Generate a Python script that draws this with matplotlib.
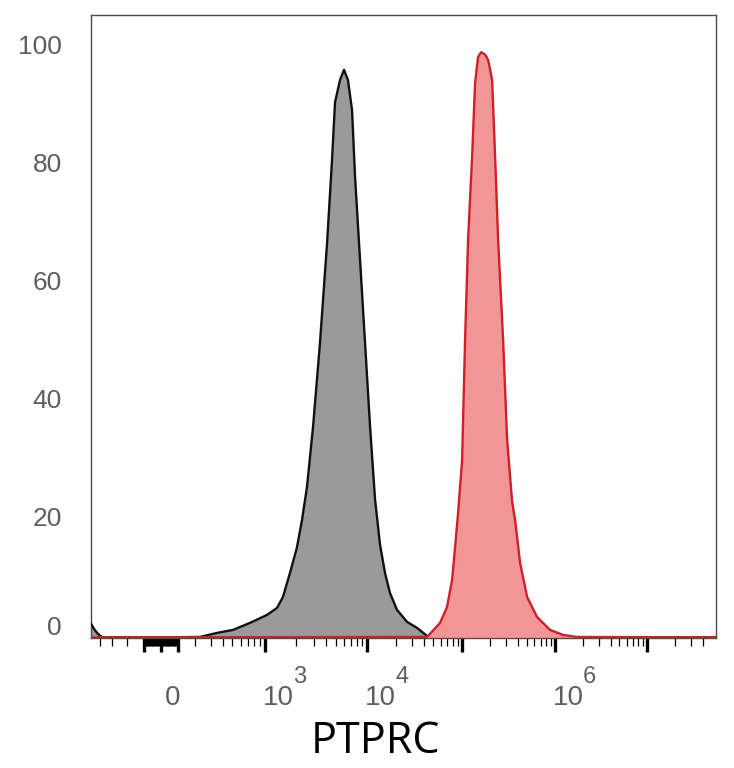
import numpy as np
import matplotlib
matplotlib.use("Agg")
import matplotlib.pyplot as plt
from matplotlib.ticker import FixedLocator, NullFormatter

# ---------------- data ----------------
gray_x = [-497, -460, -430, -400, -372, 0, 228, 348, 511, 730, 1046, 1312, 1501,
          1758, 2061, 2307, 2582, 2960, 3460, 4060, 4540, 4860, 5440, 5950, 6500,
          7130, 7630, 8540, 9560, 10760, 12140, 13700, 15460, 17450, 20690, 26370,
          33590, 42850, 46030, 5.6e7]
gray_y = [2.3, 1.4, 0.8, 0.3, 0, 0, 0.08, 0.76, 1.27, 2.46, 3.81, 5.0, 6.86,
          10.9, 15.3, 19.9, 25.5, 35.7, 49.9, 66.8, 80.9, 90.7, 94.5, 96.2, 94.5,
          89.4, 78.1, 64.0, 49.9, 35.7, 23.4, 15.7, 10.9, 7.5, 4.66, 2.63,
          1.61, 0.25, 0, 0]

red_x = [-497, 42850, 58630, 69500, 78500, 84400, 90800, 100000, 107700, 116000,
         128100, 138000, 148600, 160000, 176600, 190400, 210400, 226600, 243900,
         276100, 304900, 345000, 371500, 420500, 500000, 639700, 883000, 1220000,
         1730000, 5.6e7]
red_y = [0, 0.08, 2.46, 5.17, 9.75, 15.3, 21.1, 30.0, 50.4, 67.4,
         81.4, 94.0, 98.4, 99.2, 98.8, 97.9, 94.5, 81.4, 67.4,
         50.4, 33.5, 23.0, 19.9, 12.6, 6.86, 3.47, 1.27, 0.42,
         0.08, 0]

y_ticks = [0, 20, 40, 60, 80, 100]
x_label_ticks = [0, 1e3, 1e4, 1e6]
x_label_exps = [None, "3", "4", "6"]
x_label = "PTPRC"

# ---------------- biexponential-like axis scale ----------------
cal_vals = np.array([-400, -200, -100, 0, 100, 200, 500, 1e3, 1e4, 1e5, 1e6, 1e7])
cal_pos = np.array([100, 127.5, 144, 161, 178, 195, 232, 265, 367, 462, 555, 647])
S = 100.0
A = np.arcsinh(cal_vals / S)
lo_slope = (cal_pos[1] - cal_pos[0]) / (A[1] - A[0])
hi_slope = (cal_pos[-1] - cal_pos[-2]) / (A[-1] - A[-2])
A_ext = np.concatenate([[A[0] - 20], A, [A[-1] + 20]])
P_ext = np.concatenate([[cal_pos[0] - 20 * lo_slope], cal_pos, [cal_pos[-1] + 20 * hi_slope]])


def fwd(x):
    return np.interp(np.arcsinh(np.asarray(x, float) / S), A_ext, P_ext)


def inv(p):
    return S * np.sinh(np.interp(np.asarray(p, float), P_ext, A_ext))


# ---------------- figure ----------------
W, H = 734, 768
fig = plt.figure(figsize=(W / 100, H / 100), dpi=100)
ax = fig.add_axes([91 / W, 1 - 638 / H, (716 - 91) / W, (638 - 15) / H])
ax.set_xscale("function", functions=(fwd, inv))
ax.set_xlim(-497, 5.6e7)
ax.set_ylim(-0.1, 105.5)

ax.fill_between(gray_x, gray_y, 0, color="#9a9a9a", lw=0, zorder=2)
ax.plot(gray_x, gray_y, color="#111111", lw=1.7, zorder=3, solid_joinstyle="round")
ax.fill_between(red_x, red_y, 0, color="#f09696", lw=0, zorder=4)
ax.plot(red_x, red_y, color="#d21f26", lw=1.7, zorder=5, solid_joinstyle="round")

for sp in ax.spines.values():
    sp.set_color("#4a4a4a")
    sp.set_linewidth(1.0)

# x ticks
majors = [-100, 0, 100, 1e3, 1e4, 1e5, 1e6, 1e7]
minors = [-400, -300, -200] + list(range(-95, 0, 5)) + list(range(5, 100, 5))
for dec in [100, 1e3, 1e4, 1e5, 1e6]:
    minors += [k * dec for k in range(2, 10)]
minors += [2e7, 3e7, 4e7]
ax.xaxis.set_major_locator(FixedLocator(majors))
ax.xaxis.set_minor_locator(FixedLocator(minors))
ax.xaxis.set_major_formatter(NullFormatter())
ax.xaxis.set_minor_formatter(NullFormatter())
ax.tick_params(axis="x", which="major", direction="out", length=10, width=2.4, color="black")
ax.tick_params(axis="x", which="minor", direction="out", length=5.5, width=0.9, color="black")

# y ticks: labels only
ax.yaxis.set_major_locator(FixedLocator(y_ticks))
ax.yaxis.set_major_formatter(NullFormatter())
ax.tick_params(axis="y", length=0)

lab_font = dict(family=["Liberation Sans", "DejaVu Sans"], color="#5e5e5e")
for v in y_ticks:
    dy = 9 if v == 0 else 0
    ax.annotate(str(v), xy=(0, v), xycoords=("axes fraction", "data"),
                xytext=(-29, dy), textcoords="offset pixels",
                ha="right", va="center", fontsize=19, **lab_font)

for v, e in zip(x_label_ticks, x_label_exps):
    if e is None:
        ax.annotate("0", xy=(v, 0), xycoords=("data", "axes fraction"),
                    xytext=(4, -67), textcoords="offset pixels",
                    ha="left", va="baseline", fontsize=20, **lab_font)
    else:
        ax.annotate("10", xy=(v, 0), xycoords=("data", "axes fraction"),
                    xytext=(-2, -67), textcoords="offset pixels",
                    ha="left", va="baseline", fontsize=20, **lab_font)
        ax.annotate(e, xy=(v, 0), xycoords=("data", "axes fraction"),
                    xytext=(28, -45), textcoords="offset pixels",
                    ha="left", va="baseline", fontsize=17, **lab_font)

fig.text(375 / W, 1 - 753 / H, x_label, ha="center", va="baseline",
         fontsize=31, family=["Open Sans", "DejaVu Sans"], color="black")

fig.savefig("out.png", dpi=100)
